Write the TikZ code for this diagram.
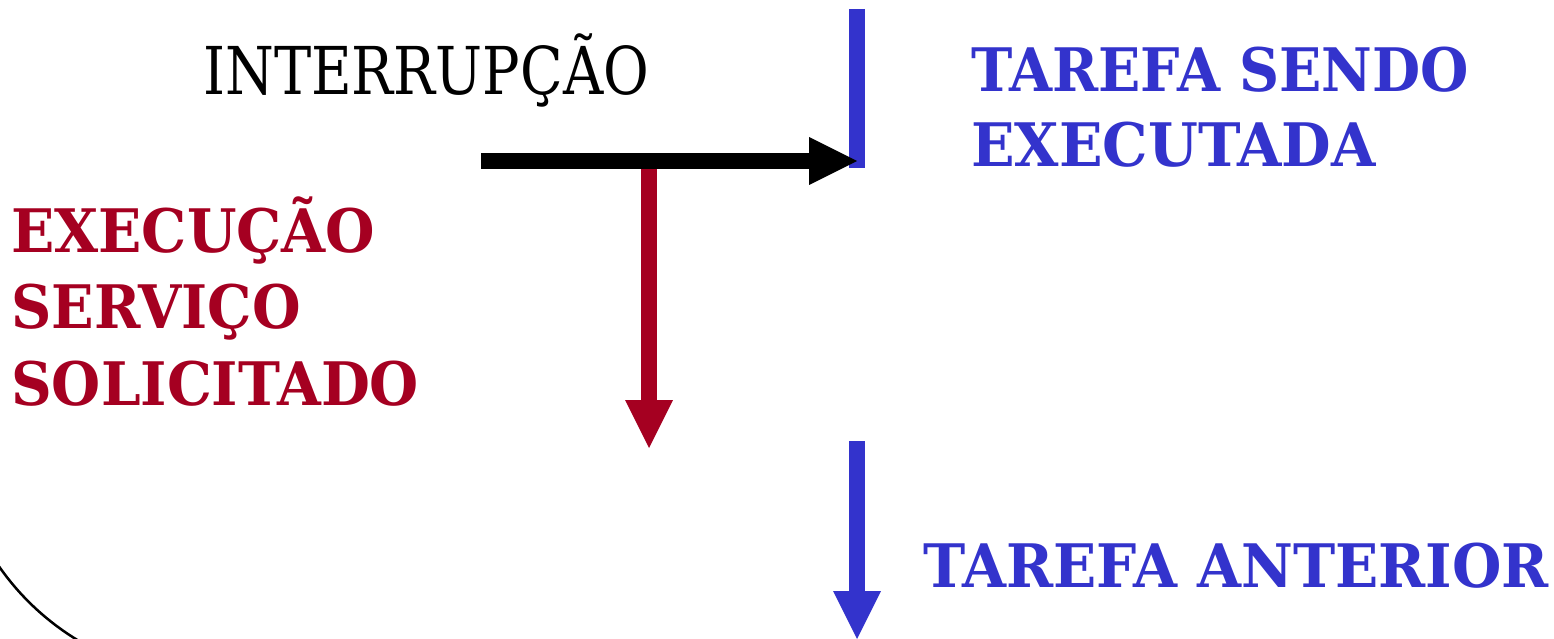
\documentclass[tikz,border=0pt]{standalone}
\usepackage{graphicx}
\usepackage{fontspec}
\setmainfont{DejaVu Serif}
\usetikzlibrary{arrows.meta}

\definecolor{svcred}{HTML}{A50021}
\definecolor{taskblue}{HTML}{3333CC}

\newcommand{\narrow}[2]{\scalebox{#1}[1]{#2}}

\tikzset{
  lbl/.style={inner sep=0pt, anchor=base west},
  bigtext/.style={lbl, font=\fontsize{66}{79}\selectfont},
  boldtext/.style={lbl, font=\fontsize{60}{76}\selectfont\bfseries},
  flow/.style={line width=16pt, -{Triangle[length=48pt,width=48pt,line width=0pt]}},
}

\begin{document}
\begin{tikzpicture}[x=1pt,y=-1pt]
  \useasboundingbox (0,0) rectangle (1554,639);
  \clip (0,0) rectangle (1554,639);

  % partial outline in the lower left corner
  \draw[line width=2.5pt] (213,417) ++(146:261) arc[start angle=146, end angle=80, radius=261];

  % labels
  \node[bigtext] (intr) at (203,95) {\narrow{0.845}{INTERRUPÇÃO}};
  \node[boldtext, text=taskblue] (cur1) at (971,92) {\narrow{0.925}{TAREFA SENDO}};
  \node[boldtext, text=taskblue] (cur2) at (971,167) {\narrow{0.953}{EXECUTADA}};
  \node[boldtext, text=svcred] (svc1) at (11,252) {\narrow{0.947}{EXECUÇÃO}};
  \node[boldtext, text=svcred] (svc2) at (11,328) {\narrow{0.93}{SERVIÇO}};
  \node[boldtext, text=svcred] (svc3) at (11,405) {\narrow{0.94}{SOLICITADO}};
  \node[boldtext, text=taskblue] (prev) at (923,587) {\narrow{0.945}{TAREFA ANTERIOR}};

  % anchor points of the connectors
  \coordinate (barTop) at (857,9);
  \coordinate (barBot) at (857,168);
  \coordinate (intFrom) at (481,161);
  \coordinate (intTo) at (857,161);
  \coordinate (svcFrom) at (649,169);
  \coordinate (svcTo) at (649,448);
  \coordinate (retFrom) at (857,441);
  \coordinate (retTo) at (857,639);

  % running task
  \draw[taskblue, line width=16pt] (barTop) -- (barBot);
  % interrupt request
  \draw[flow, black] (intFrom) -- (intTo);
  % service routine
  \draw[flow, svcred] (svcFrom) -- (svcTo);
  % return to the previous task
  \draw[flow, taskblue] (retFrom) -- (retTo);
\end{tikzpicture}
\end{document}
